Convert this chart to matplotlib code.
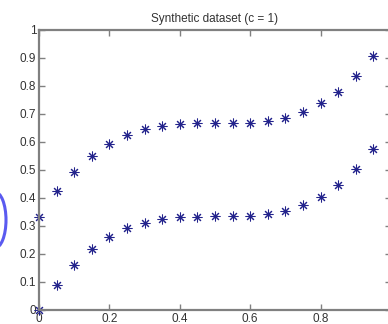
import matplotlib
matplotlib.use('Agg')
import matplotlib.pyplot as plt
from matplotlib.patches import Arc

# sample positions and the two curves of the synthetic set
x_values = [0.00, 0.05, 0.10, 0.15, 0.20, 0.25, 0.30, 0.35, 0.40, 0.45,
            0.50, 0.55, 0.60, 0.65, 0.70, 0.75, 0.80, 0.85, 0.90, 0.95]
upper_curve = [0.331, 0.425, 0.494, 0.551, 0.593, 0.625, 0.645, 0.657, 0.664, 0.667,
               0.667, 0.667, 0.667, 0.675, 0.687, 0.708, 0.738, 0.780, 0.837, 0.908]
lower_curve = [0.000, 0.089, 0.161, 0.218, 0.262, 0.292, 0.312, 0.325, 0.331, 0.333,
               0.334, 0.334, 0.335, 0.343, 0.352, 0.375, 0.405, 0.446, 0.504, 0.576]
x_ticks = [0, 0.2, 0.4, 0.6, 0.8]
x_tick_labels = ['0', '0.2', '0.4', '0.6', '0.8']
y_ticks = [0, 0.1, 0.2, 0.3, 0.4, 0.5, 0.6, 0.7, 0.8, 0.9, 1]
y_tick_labels = ['0', '0.1', '0.2', '0.3', '0.4', '0.5', '0.6', '0.7', '0.8', '0.9', '1']

plt.rcParams['font.family'] = ['Liberation Sans', 'DejaVu Sans']

W, H = 388, 324
fig = plt.figure(figsize=(W / 100, H / 100), dpi=100)
# the right side of the box runs just past the edge of the figure
ax = fig.add_axes([39 / W, 14 / H, 352 / W, 280 / H])

star = (8, 2, 0)
dot_color = '#23238c'
ax.plot(x_values, upper_curve, linestyle='none', marker=star, markersize=7,
        markeredgecolor=dot_color, markeredgewidth=0.75, clip_on=False)
ax.plot(x_values, lower_curve, linestyle='none', marker=star, markersize=7,
        markeredgecolor=dot_color, markeredgewidth=0.75, clip_on=False)

ax.set_xlim(0, 1)
ax.set_ylim(0, 1)
ax.set_xticks(x_ticks)
ax.set_xticklabels(x_tick_labels)
ax.set_yticks(y_ticks)
ax.set_yticklabels(y_tick_labels)

axis_grey = '#808080'
for side in ax.spines.values():
    side.set_color(axis_grey)
    side.set_linewidth(1.6)
ax.tick_params(direction='in', length=4, width=1, colors=axis_grey,
               labelcolor='#333333', labelsize=8.5, pad=2,
               top=True, right=True)

ax.set_title('Synthetic dataset (c = 1)', fontsize=8.5, color='#333333', pad=6)

# blue pen stroke on the left margin
mark = Arc((-5 / 100, (H - 220) / 100), 22 / 100, 56 / 100, theta1=-90, theta2=90,
           transform=fig.dpi_scale_trans, color='#5a5af0', linewidth=2.2)
fig.add_artist(mark)

fig.savefig('out.png', dpi=100)
